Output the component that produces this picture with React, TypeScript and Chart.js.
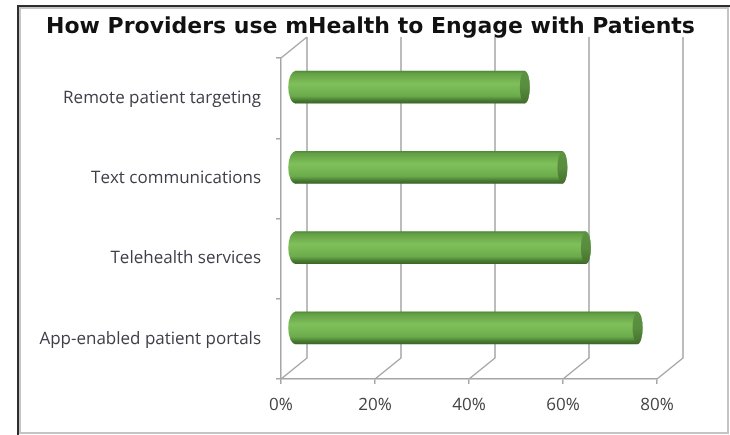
import React, { useEffect, useRef } from "react";
import { Chart, registerables } from "chart.js";

Chart.register(...registerables);

const categories = ["Remote patient targeting", "Text communications", "Telehealth services", "App-enabled patient portals"];
const shares = [49, 57, 62, 73];
const tickStep = 20;
const axisMax = 80;
const chartTitle = "How Providers use mHealth to Engage with Patients";

const DEPTH_X = 26;
const DEPTH_Y = -21;
const BAR_DX = 13.5;
const BAR_DY = -11;
const GRID = "#a6a6a6";

function barGradient(ctx: CanvasRenderingContext2D, yc: number, h: number) {
  const g = ctx.createLinearGradient(0, yc - h / 2, 0, yc + h / 2);
  g.addColorStop(0, "#4f8a36");
  g.addColorStop(0.07, "#639f45");
  g.addColorStop(0.4, "#80c05a");
  g.addColorStop(0.78, "#6cab4c");
  g.addColorStop(0.92, "#477a30");
  g.addColorStop(1, "#3c6828");
  return g;
}

const depthPlugin = {
  id: "depth",
  afterLayout(chart: any) {
    const t = chart.titleBlock;
    if (t) {
      t.left = 21;
      t.right = 720;
    }
  },
  beforeDatasetsDraw(chart: any) {
    const { ctx, scales } = chart;
    const { x, y } = scales;
    ctx.save();
    ctx.strokeStyle = GRID;
    ctx.lineWidth = 1.5;
    x.ticks.forEach((t: any) => {
      const px = x.getPixelForValue(t.value);
      ctx.beginPath();
      ctx.moveTo(px, y.bottom);
      ctx.lineTo(px + DEPTH_X, y.bottom + DEPTH_Y);
      ctx.lineTo(px + DEPTH_X, y.top + DEPTH_Y);
      ctx.stroke();
    });
    const x0 = x.getPixelForValue(0);
    ctx.beginPath();
    ctx.moveTo(x0, y.top);
    ctx.lineTo(x0 + DEPTH_X, y.top + DEPTH_Y);
    ctx.stroke();
    ctx.restore();
    ctx.save();
    ctx.translate(BAR_DX, BAR_DY);
    chart.getDatasetMeta(0).data.forEach((el: any) => {
      ctx.fillStyle = barGradient(ctx, el.y, el.height);
      ctx.beginPath();
      ctx.ellipse(el.base, el.y, 7, el.height / 2, 0, 0, Math.PI * 2);
      ctx.fill();
    });
  },
  afterDatasetsDraw(chart: any) {
    const { ctx } = chart;
    chart.getDatasetMeta(0).data.forEach((el: any) => {
      const g = ctx.createLinearGradient(0, el.y - el.height / 2, 0, el.y + el.height / 2);
      g.addColorStop(0, "#5e9243");
      g.addColorStop(0.5, "#588d3e");
      g.addColorStop(1, "#466f2e");
      ctx.fillStyle = barGradient(ctx, el.y, el.height);
      ctx.beginPath();
      ctx.ellipse(el.x, el.y, 5, el.height / 2, 0, -Math.PI / 2, Math.PI / 2);
      ctx.fill();
      ctx.fillStyle = g;
      ctx.beginPath();
      ctx.ellipse(el.x, el.y, 5, el.height / 2, 0, 0, Math.PI * 2);
      ctx.fill();
    });
    ctx.restore();
  },
  beforeDraw(chart: any) {
    const { ctx } = chart;
    ctx.textRendering = "geometricPrecision";
    ctx.save();
    ctx.fillStyle = "#ffffff";
    ctx.fillRect(0, 0, 730, 435);
    ctx.fillStyle = "#2e2e2e";
    ctx.fillRect(17, 5, 713, 2);
    ctx.fillRect(17, 5, 2, 430);
    ctx.strokeStyle = "#c4c4c4";
    ctx.lineWidth = 2;
    ctx.strokeRect(20, 8, 708, 425);
    ctx.restore();
  },
};

export default function App() {
  const ref = useRef<HTMLCanvasElement>(null);
  useEffect(() => {
    document.body.style.margin = "0";
    const chart = new Chart(ref.current!, {
      type: "bar",
      data: {
        labels: categories,
        datasets: [
          {
            data: shares,
            barThickness: 32,
            backgroundColor: (c: any) => {
              const y = c.chart.scales.y;
              const yc = y && c.dataIndex !== undefined ? y.getPixelForValue(c.dataIndex) : NaN;
              if (!Number.isFinite(yc)) return "#6fae4e";
              return barGradient(c.chart.ctx, yc, 32);
            },
          },
        ],
      },
      plugins: [depthPlugin],
      options: {
        indexAxis: "y",
        responsive: false,
        animation: false,
        layout: { padding: { left: 21, right: 73, top: 9, bottom: 0 } },
        plugins: {
          legend: { display: false },
          tooltip: { enabled: false },
          title: {
            display: true,
            text: chartTitle,
            color: "#111111",
            font: { family: "DejaVu Sans", size: 22, weight: "bold" },
            padding: { top: 5, bottom: 17.6 },
          },
        },
        scales: {
          x: {
            min: 0,
            max: axisMax,
            ticks: {
              stepSize: tickStep,
              callback: (v: any) => v + "%",
              color: "#444444",
              maxRotation: 0,
              font: { family: "Open Sans", size: 17 },
              padding: 11,
            },
            grid: { drawOnChartArea: false, drawTicks: true, tickLength: 5, color: GRID, lineWidth: 1.5 },
            border: { color: GRID, width: 1.5 },
            afterFit: (s: any) => { s.height = 56; },
          },
          y: {
            ticks: {
              color: "#3f3f4a",
              font: { family: "Open Sans", size: 17 },
              padding: 15,
              autoSkip: false,
            },
            grid: { drawOnChartArea: false, offset: true, tickLength: 5, color: GRID, lineWidth: 1.5 },
            border: { color: GRID, width: 1.5 },
            afterFit: (s: any) => { s.width = 260; },
          },
        },
      },
    } as any);
    return () => chart.destroy();
  }, []);
  return (
    <canvas
      ref={ref}
      width={730}
      height={435}
      style={{ position: "fixed", left: 0, top: 0, width: 730, height: 435, filter: "blur(0.7px)" }}
    />
  );
}
